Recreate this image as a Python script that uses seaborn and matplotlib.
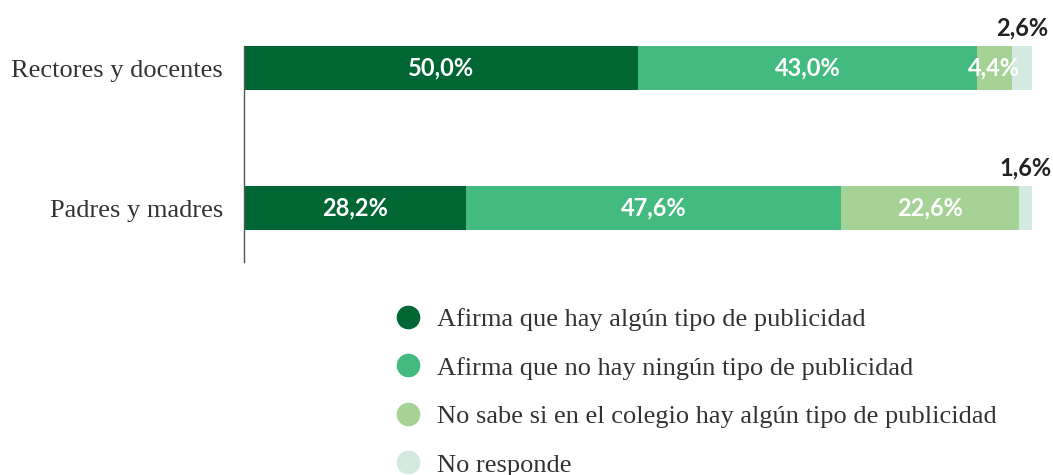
import matplotlib
import numpy as np
import seaborn as sns
from matplotlib import pyplot as plt
from matplotlib.lines import Line2D

matplotlib.use('Agg')

groups = ["Rectores y docentes", "Padres y madres"]
categories = ["Afirma que hay algún tipo de publicidad",
              "Afirma que no hay ningún tipo de publicidad",
              "No sabe si en el colegio hay algún tipo de publicidad",
              "No responde"]
afirma_si = [50.0, 28.2]
afirma_no = [43.0, 47.6]
no_sabe = [4.4, 22.6]
no_responde = [2.6, 1.6]

COLORS = ["#006633", "#43BA80", "#A5D396", "#D3EAE0"]
SERIF = "Liberation Serif"
LABEL_FONT = "Lato"


def fmt(v):
    return f"{v:.1f}%".replace(".", ",")


sns.set_theme(style="white")
fig = plt.figure(figsize=(10.53, 4.75), dpi=100)
ax = fig.add_axes([244 / 1053, 1 - 262 / 475, 788 / 1053, (262 - 46) / 475])

series = [afirma_si, afirma_no, no_sabe, no_responde]
cum = np.cumsum(np.array(series), axis=0)

# draw cumulative totals from the back so each segment shows its own colour
for i in reversed(range(len(series))):
    sns.barplot(x=cum[i], y=groups, orient="h", color=COLORS[i], width=0.314,
                saturation=1, linewidth=0, ax=ax)

ax.set_xlim(0, 100)
ax.set_ylim(1 + 54 / 140, -22 / 140)

for g in range(len(groups)):
    left = 0
    for i, vals in enumerate(series):
        v = vals[g]
        if i < 3:
            ax.text(left + v / 2, g, fmt(v), ha="center", va="center", color="white",
                    fontsize=17, fontweight="bold", family=LABEL_FONT)
        else:
            ax.text(left + v / 2, g - 0.286, fmt(v), ha="center", va="center", color="#222222",
                    fontsize=17, fontweight="bold", family=LABEL_FONT)
        left += v

ax.set_xticks([])
ax.set_xlabel("")
ax.set_ylabel("")
ax.tick_params(axis="y", length=0, pad=15)
for lab in ax.get_yticklabels():
    lab.set_family(SERIF)
    lab.set_fontsize(19)
    lab.set_color("#333333")
for s in ["top", "right", "bottom"]:
    ax.spines[s].set_visible(False)
ax.spines["left"].set_color("#555555")
ax.spines["left"].set_linewidth(1)

handles = [Line2D([], [], marker="o", linestyle="", markersize=16, color=c) for c in COLORS]
leg = fig.legend(handles, categories, loc="upper left", bbox_to_anchor=(384 / 1053, 1 - 297 / 475),
                 frameon=False, handlelength=1.0, handletextpad=0.6, labelspacing=0.95,
                 borderaxespad=0, prop={"family": SERIF, "size": 19})
for t in leg.get_texts():
    t.set_color("#333333")

fig.savefig("out.png", dpi=100)
